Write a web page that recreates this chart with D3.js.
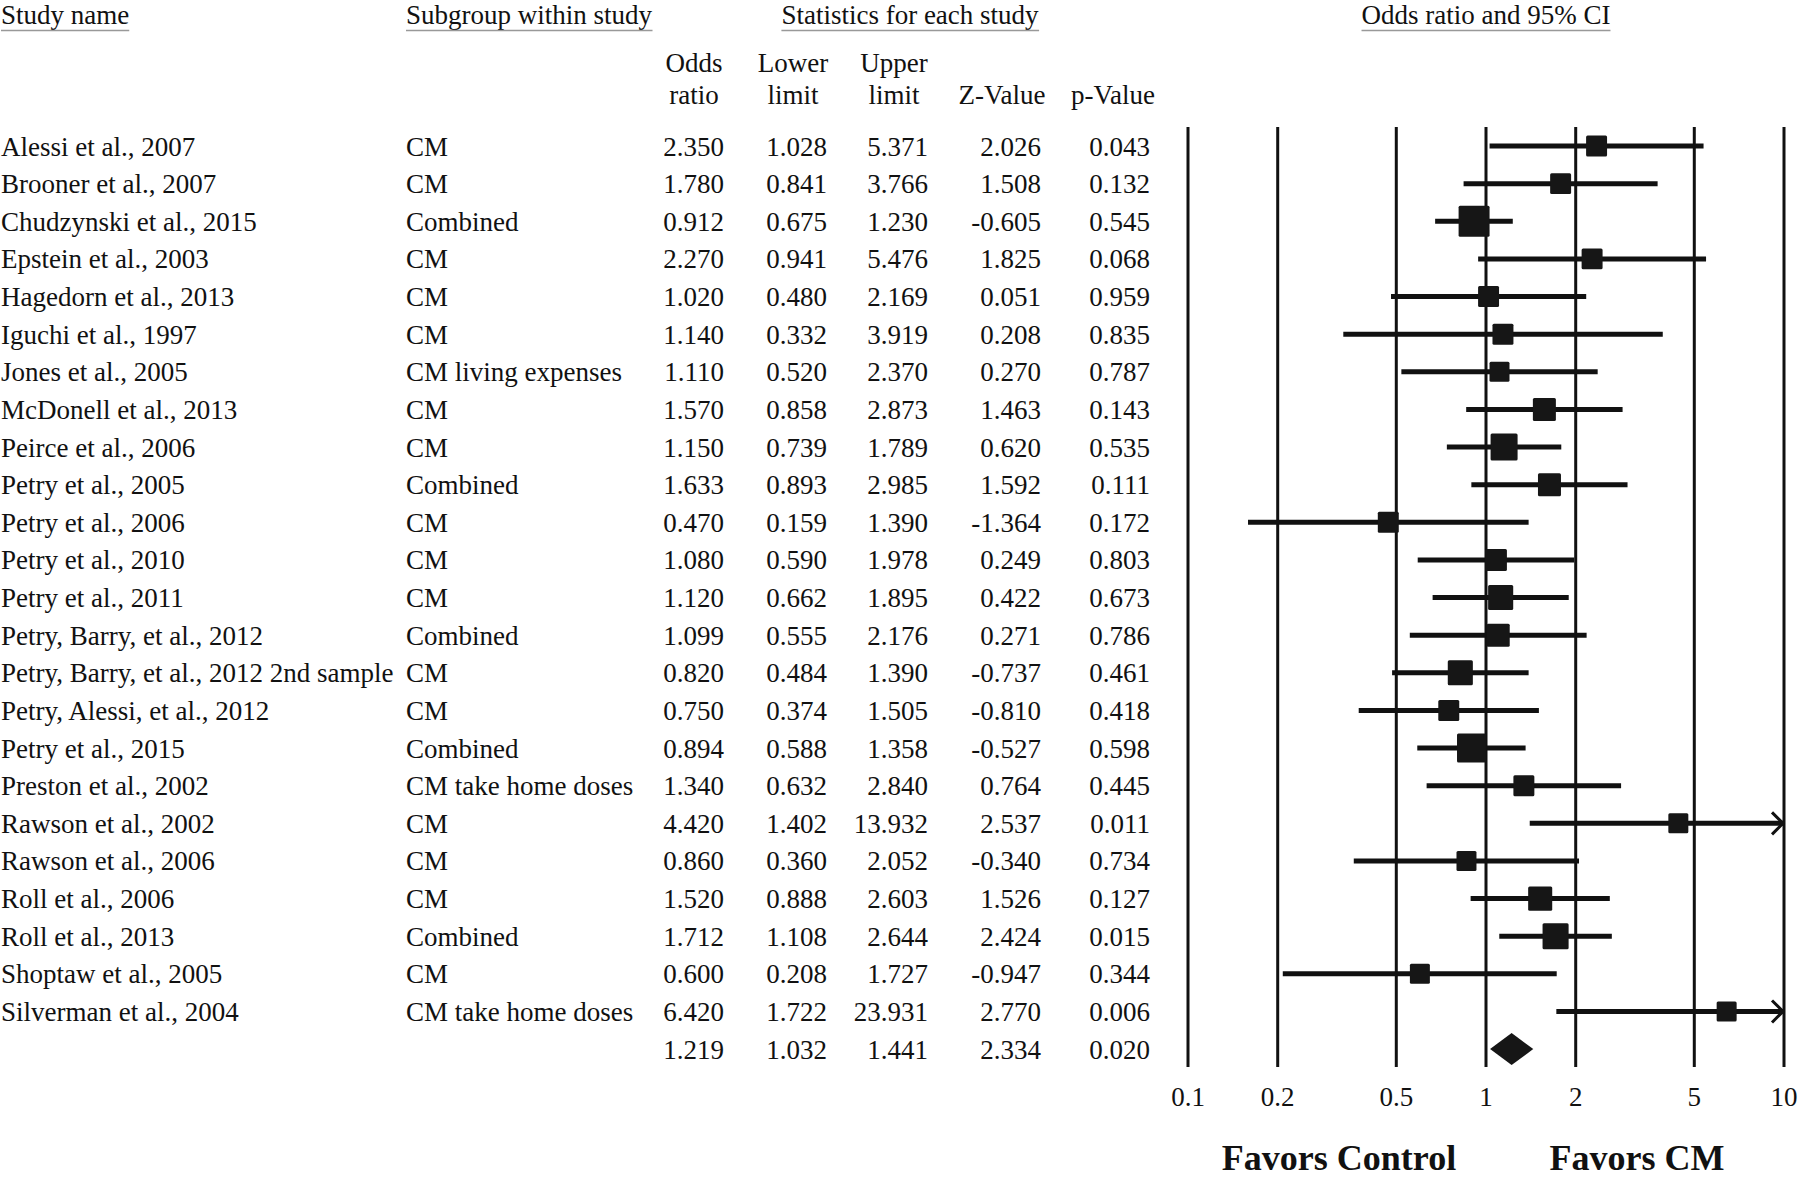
<!DOCTYPE html>
<html>
<head>
<meta charset="utf-8">
<script src="https://cdn.jsdelivr.net/npm/d3@7"></script>
<style>
  html, body { margin: 0; padding: 0; background: #fff; }
  svg { display: block; }
  text { font-family: "Liberation Serif", "Times New Roman", serif; fill: #111; }
</style>
</head>
<body>
<svg id="chart" width="1800" height="1178"></svg>
<script>
// ---------------- data ----------------
const studies = [
  "Alessi et al., 2007", "Brooner et al., 2007", "Chudzynski et al., 2015", "Epstein et al., 2003",
  "Hagedorn et al., 2013", "Iguchi et al., 1997", "Jones et al., 2005", "McDonell et al., 2013",
  "Peirce et al., 2006", "Petry et al., 2005", "Petry et al., 2006", "Petry et al., 2010",
  "Petry et al., 2011", "Petry, Barry, et al., 2012", "Petry, Barry, et al., 2012 2nd sample",
  "Petry, Alessi, et al., 2012", "Petry et al., 2015", "Preston et al., 2002", "Rawson et al., 2002",
  "Rawson et al., 2006", "Roll et al., 2006", "Roll et al., 2013", "Shoptaw et al., 2005",
  "Silverman et al., 2004"
];
const subgroups = [
  "CM", "CM", "Combined", "CM", "CM", "CM", "CM living expenses", "CM", "CM", "Combined", "CM", "CM",
  "CM", "Combined", "CM", "CM", "Combined", "CM take home doses", "CM", "CM", "CM", "Combined", "CM",
  "CM take home doses"
];
const oddsRatio = [2.350, 1.780, 0.912, 2.270, 1.020, 1.140, 1.110, 1.570, 1.150, 1.633, 0.470, 1.080,
  1.120, 1.099, 0.820, 0.750, 0.894, 1.340, 4.420, 0.860, 1.520, 1.712, 0.600, 6.420];
const lowerLimit = [1.028, 0.841, 0.675, 0.941, 0.480, 0.332, 0.520, 0.858, 0.739, 0.893, 0.159, 0.590,
  0.662, 0.555, 0.484, 0.374, 0.588, 0.632, 1.402, 0.360, 0.888, 1.108, 0.208, 1.722];
const upperLimit = [5.371, 3.766, 1.230, 5.476, 2.169, 3.919, 2.370, 2.873, 1.789, 2.985, 1.390, 1.978,
  1.895, 2.176, 1.390, 1.505, 1.358, 2.840, 13.932, 2.052, 2.603, 2.644, 1.727, 23.931];
const zValue = [2.026, 1.508, -0.605, 1.825, 0.051, 0.208, 0.270, 1.463, 0.620, 1.592, -1.364, 0.249,
  0.422, 0.271, -0.737, -0.810, -0.527, 0.764, 2.537, -0.340, 1.526, 2.424, -0.947, 2.770];
const pValue = [0.043, 0.132, 0.545, 0.068, 0.959, 0.835, 0.787, 0.143, 0.535, 0.111, 0.172, 0.803,
  0.673, 0.786, 0.461, 0.418, 0.598, 0.445, 0.011, 0.734, 0.127, 0.015, 0.344, 0.006];
// relative study weights (square area ∝ weight)
const weights = [4.4, 4.4, 9.6, 4.4, 4.4, 4.4, 4.0, 5.3, 7.3, 5.3, 4.4, 4.8, 6.3, 5.3, 6.3, 4.4, 8.4,
  4.4, 4.0, 4.0, 5.8, 6.8, 4.0, 4.0];
const summary = { or: 1.219, lower: 1.032, upper: 1.441, z: 2.334, p: 0.020 };
const tickValues = [0.1, 0.2, 0.5, 1, 2, 5, 10];
const tickLabels = ["0.1", "0.2", "0.5", "1", "2", "5", "10"];
const headerTop = ["Study name", "Subgroup within study", "Statistics for each study", "Odds ratio and 95% CI"];
const statHeaders = [["Odds", "ratio"], ["Lower", "limit"], ["Upper", "limit"], ["", "Z-Value"], ["", "p-Value"]];
const favorLabels = ["Favors Control", "Favors CM"];

// ---------------- layout ----------------
const svg = d3.select("#chart");
const FS = 27;
const nRows = studies.length + 1;
const y = d3.scaleLinear().domain([0, nRows - 1]).range([146, 146 + 37.63 * (nRows - 1)]);
const x = d3.scaleLog().domain([0.1, 10]).range([1188, 1784]);
const side = d3.scaleSqrt().domain([0, 10]).range([0, 31.6]);
const gridTop = 127, gridBottom = 1067;
const baseOff = 9.5;

const colStudy = 1, colSub = 406;
const statRight = [724, 827, 928, 1041, 1150];
const statCenter = [694, 793, 894, 1002, 1113];

const fmt = v => v.toFixed(3);

// ---------------- headers ----------------
const topG = svg.append("g");
const topSpecs = [
  { t: headerTop[0], x: colStudy, anchor: "start" },
  { t: headerTop[1], x: colSub, anchor: "start" },
  { t: headerTop[2], x: 910, anchor: "middle" },
  { t: headerTop[3], x: x(1), anchor: "middle" }
];
topSpecs.forEach(s => {
  const t = topG.append("text").attr("x", s.x).attr("y", 24)
    .attr("text-anchor", s.anchor).attr("font-size", FS).text(s.t);
  const bb = t.node().getBBox();
  topG.append("line").attr("x1", bb.x).attr("x2", bb.x + bb.width)
    .attr("y1", 30.5).attr("y2", 30.5).attr("stroke", "#999").attr("stroke-width", 1.5);
});

const shG = svg.append("g");
statHeaders.forEach((h, i) => {
  shG.append("text").attr("x", statCenter[i]).attr("y", 72).attr("text-anchor", "middle")
    .attr("font-size", FS).text(h[0]);
  shG.append("text").attr("x", statCenter[i]).attr("y", 104).attr("text-anchor", "middle")
    .attr("font-size", FS).text(h[1]);
});

// ---------------- table rows ----------------
const rows = studies.map((s, i) => ({
  i, study: s, sub: subgroups[i], vals: [oddsRatio[i], lowerLimit[i], upperLimit[i], zValue[i], pValue[i]]
}));
const tG = svg.append("g");
const rowG = tG.selectAll("g.row").data(rows).join("g").attr("class", "row");
rowG.append("text").attr("x", colStudy).attr("y", d => y(d.i) + baseOff)
  .attr("font-size", FS).text(d => d.study);
rowG.append("text").attr("x", colSub).attr("y", d => y(d.i) + baseOff)
  .attr("font-size", FS).text(d => d.sub);
rowG.each(function(d) {
  const g = d3.select(this);
  d.vals.forEach((v, k) => {
    g.append("text").attr("x", statRight[k]).attr("y", y(d.i) + baseOff)
      .attr("text-anchor", "end").attr("font-size", FS).text(fmt(v));
  });
});
const sumVals = [summary.or, summary.lower, summary.upper, summary.z, summary.p];
sumVals.forEach((v, k) => {
  tG.append("text").attr("x", statRight[k]).attr("y", y(nRows - 1) + baseOff)
    .attr("text-anchor", "end").attr("font-size", FS).text(fmt(v));
});

// ---------------- forest plot ----------------
const pG = svg.append("g");
pG.selectAll("line.grid").data(tickValues).join("line").attr("class", "grid")
  .attr("x1", d => x(d)).attr("x2", d => x(d))
  .attr("y1", gridTop).attr("y2", gridBottom)
  .attr("stroke", "#111").attr("stroke-width", 3);

pG.selectAll("text.tick").data(tickValues).join("text").attr("class", "tick")
  .attr("x", d => x(d)).attr("y", 1106).attr("text-anchor", "middle")
  .attr("font-size", FS).text((d, i) => tickLabels[i]);

const xmax = x.domain()[1];
pG.selectAll("line.ci").data(rows).join("line").attr("class", "ci")
  .attr("x1", d => x(Math.max(lowerLimit[d.i], 0.1)))
  .attr("x2", d => x(Math.min(upperLimit[d.i], xmax)))
  .attr("y1", d => y(d.i)).attr("y2", d => y(d.i))
  .attr("stroke", "#111").attr("stroke-width", 5);

// arrows for truncated CIs
pG.selectAll("path.arrow").data(rows.filter(d => upperLimit[d.i] > xmax)).join("path").attr("class", "arrow")
  .attr("d", d => {
    const xx = x(xmax) - 1, yy = y(d.i);
    return `M${xx - 11},${yy - 11}L${xx},${yy}L${xx - 11},${yy + 11}`;
  })
  .attr("fill", "none").attr("stroke", "#111").attr("stroke-width", 3);

pG.selectAll("rect.box").data(rows).join("rect").attr("class", "box")
  .attr("x", d => x(oddsRatio[d.i]) - side(weights[d.i]) / 2)
  .attr("y", d => y(d.i) - side(weights[d.i]) / 2)
  .attr("width", d => side(weights[d.i]))
  .attr("height", d => side(weights[d.i]))
  .attr("rx", 1.5)
  .attr("fill", "#161616");

const ys = y(nRows - 1);
pG.append("path")
  .attr("d", `M${x(summary.lower)},${ys}L${x(summary.or)},${ys - 16}L${x(summary.upper)},${ys}L${x(summary.or)},${ys + 16}Z`)
  .attr("fill", "#161616");

// favors labels
const fG = svg.append("g");
fG.append("text").attr("x", 1339).attr("y", 1170).attr("text-anchor", "middle")
  .attr("font-size", 36).attr("font-weight", "bold").text(favorLabels[0]);
fG.append("text").attr("x", 1637).attr("y", 1170).attr("text-anchor", "middle")
  .attr("font-size", 36).attr("font-weight", "bold").text(favorLabels[1]);
</script>
</body>
</html>
